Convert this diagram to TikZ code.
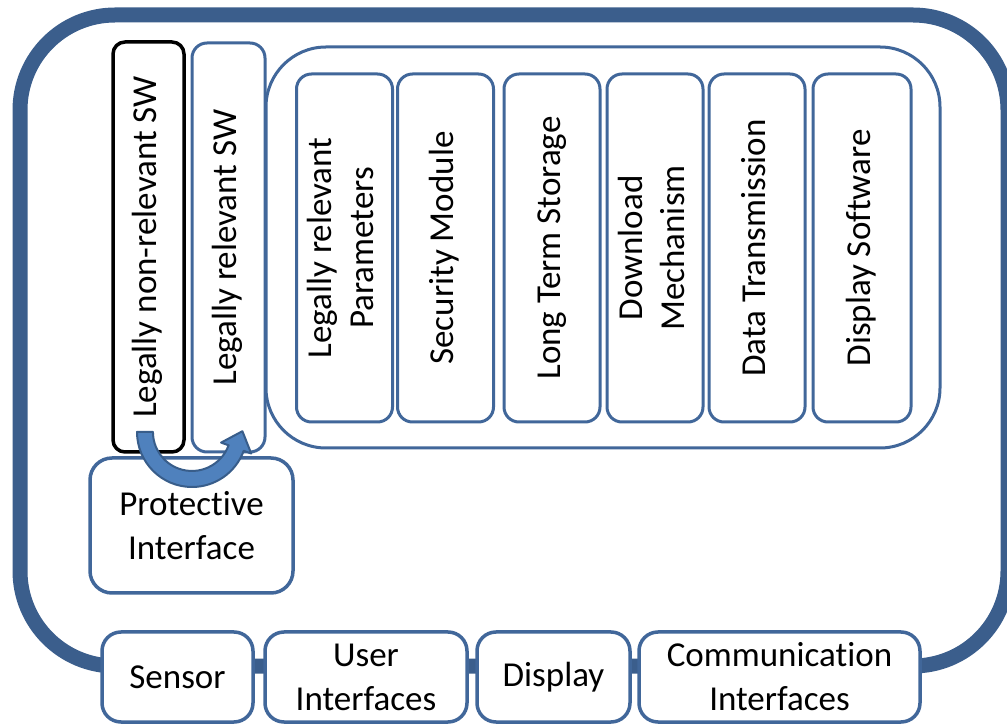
\documentclass[tikz,border=0pt]{standalone}
\usepackage{fontspec}
\setmainfont{Carlito}[Ligatures=NoCommon]
\definecolor{frameblue}{HTML}{3B5E8C}
\definecolor{boxblue}{HTML}{41679A}
\definecolor{arrowfill}{HTML}{4F81BD}
\definecolor{arrowline}{HTML}{385D8A}
\tikzset{
  lbl/.style={font=\fontsize{35}{44}\selectfont, align=center, text=black},
  vlbl/.style={font=\fontsize{35}{42}\selectfont, text=black},
  bluebox/.style={draw=boxblue, line width=3pt, fill=white, rounded corners=15pt, inner sep=0pt},
  blackbox/.style={draw=black, line width=3.5pt, fill=white, rounded corners=12pt, inner sep=0pt},
  bigframe/.style={draw=frameblue, line width=15pt, rounded corners=95pt, inner sep=0pt},
  container/.style={draw=boxblue, line width=3pt, fill=white, rounded corners=60pt, inner sep=0pt},
  botbox/.style={draw=boxblue, line width=3.5pt, fill=white, rounded corners=19pt, inner sep=0pt, lbl},
  protbox/.style={draw=boxblue, line width=3.5pt, fill=white, rounded corners=22pt, inner sep=0pt, lbl},
  uarrow/.style={fill=arrowfill, draw=arrowline, line width=2pt, line join=round}
}
\newcommand{\vtext}[1]{\rotatebox{90}{\begin{tabular}{@{}c@{}}#1\end{tabular}}}
\begin{document}
\begin{tikzpicture}[x=1pt,y=1pt]
\useasboundingbox (0,0) rectangle (1007,726);
% outer frame
\node[bigframe, minimum width=988pt, minimum height=651pt] (frame) at (514,385.5) {};
% inner container
\node[container, minimum width=674pt, minimum height=401pt] (cont) at (603,478.5) {};
% left vertical boxes
\node[blackbox, minimum width=71pt, minimum height=410pt, vlbl] (nrsw) at (148.5,479) {\vtext{Legally non-relevant SW}};
\node[bluebox, minimum width=73pt, minimum height=409pt, vlbl] (rsw) at (228.5,478.5) {\vtext{Legally relevant SW}};
% six module boxes
\node[bluebox, minimum width=96pt, minimum height=348pt, vlbl] (par) at (344.5,478) {\vtext{Legally relevant\\Parameters}};
\node[bluebox, minimum width=96pt, minimum height=348pt, vlbl] (sec) at (445.5,478) {\vtext{Security Module}};
\node[bluebox, minimum width=96pt, minimum height=348pt, vlbl] (lts) at (552,478) {\vtext{Long Term Storage}};
\node[bluebox, minimum width=96pt, minimum height=348pt, vlbl] (dl) at (655,478) {\vtext{Download\\Mechanism}};
\node[bluebox, minimum width=96pt, minimum height=348pt, vlbl] (dt) at (757,478) {\vtext{Data Transmission}};
\node[bluebox, minimum width=98pt, minimum height=348pt, vlbl] (ds) at (862,478) {\vtext{Display Software}};
% protective interface
\node[protbox, minimum width=203pt, minimum height=135pt] (prot) at (191.5,200.5) {Protective\\Interface};
% curved arrow
\coordinate (c) at (192,294);
\draw[uarrow] (137,294) arc[start angle=180, end angle=340, radius=55pt]
  -- (251.2,272.5) -- (242.4,294.8) -- (221.1,283.4) -- (228.6,280.7)
  arc[start angle=340, end angle=180, radius=39pt] -- cycle;
% bottom boxes
\node[botbox, minimum width=151pt, minimum height=90pt] (sensor) at (177.5,49) {Sensor};
\node[botbox, minimum width=202pt, minimum height=90pt] (ui) at (366,49) {User\\Interfaces};
\node[botbox, minimum width=153pt, minimum height=90pt] (disp) at (553.5,49) {Display};
\node[botbox, minimum width=281pt, minimum height=90pt] (comm) at (779.5,49) {Communication\\Interfaces};
\end{tikzpicture}
\end{document}
